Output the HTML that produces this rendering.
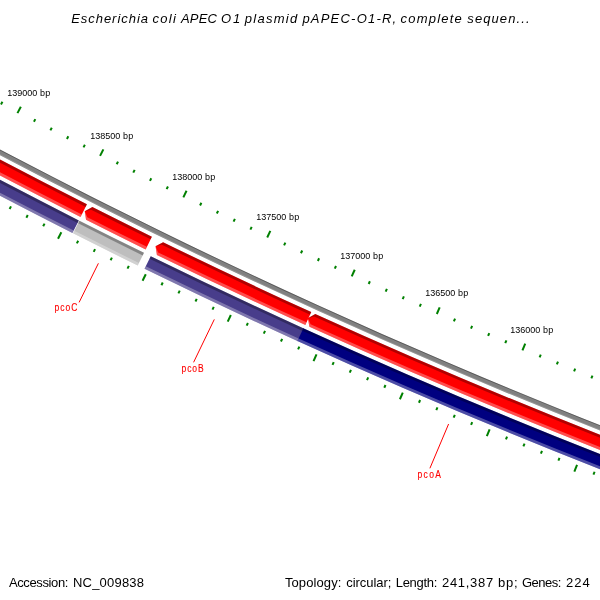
<!DOCTYPE html>
<html><head><meta charset="utf-8"><title>CGView map</title>
<style>html,body{margin:0;padding:0;background:#fff;overflow:hidden}svg{display:block}text{font-family:"Liberation Sans",sans-serif}</style>
</head><body>
<svg width="600" height="600" viewBox="0 0 600 600">
<rect width="600" height="600" fill="#fff"/>
<path d="M-101.46 97.72 A6133.54 6133.54 0 0 0 680.15 458.93" stroke="#808080" stroke-width="5.00" fill="none"/>
<path d="M-100.50 95.97 A6131.54 6131.54 0 0 0 680.86 457.06" stroke="#000" stroke-width="1.00" stroke-opacity="0.3" fill="none"/>
<path d="M-102.42 99.47 A6135.54 6135.54 0 0 0 679.44 460.80" stroke="#fff" stroke-width="1.00" stroke-opacity="0.15" fill="none"/>
<path d="M-107.96 109.53 A6147.02 6147.02 0 0 0 83.73 210.68" stroke="#FF0000" stroke-width="14.15" fill="none"/>
<path d="M-105.23 104.57 A6141.36 6141.36 0 0 0 86.29 205.63" stroke="#000" stroke-width="2.83" stroke-opacity="0.3" fill="none"/>
<path d="M-110.69 114.49 A6152.68 6152.68 0 0 0 81.18 215.73" stroke="#fff" stroke-width="2.83" stroke-opacity="0.3" fill="none"/>
<path d="M-116.63 125.27 A6164.99 6164.99 0 0 0 75.63 226.72" stroke="#483D8B" stroke-width="14.15" fill="none"/>
<path d="M-113.90 120.32 A6159.33 6159.33 0 0 0 78.18 221.66" stroke="#000" stroke-width="2.83" stroke-opacity="0.3" fill="none"/>
<path d="M-119.35 130.23 A6170.65 6170.65 0 0 0 73.08 231.77" stroke="#fff" stroke-width="2.83" stroke-opacity="0.3" fill="none"/>
<path d="M151.89 236.71 A6139.94 6139.94 0 0 1 92.39 207.12 L84.74 211.19 L86.02 219.76 A6154.09 6154.09 0 0 0 145.66 249.41 Z" fill="#FF0000"/>
<path d="M151.89 236.71 A6139.94 6139.94 0 0 1 92.39 207.12 L84.74 211.19 L91.11 209.65 A6142.77 6142.77 0 0 0 150.65 239.25 Z" fill="#000" fill-opacity="0.3"/>
<path d="M146.91 246.87 A6151.26 6151.26 0 0 1 87.29 217.23 L84.74 211.19 L86.02 219.76 A6154.09 6154.09 0 0 0 145.66 249.41 Z" fill="#fff" fill-opacity="0.3"/>
<path d="M76.22 227.01 A6164.99 6164.99 0 0 0 140.86 259.20" stroke="#BEBEBE" stroke-width="14.15" fill="none"/>
<path d="M78.77 221.96 A6159.33 6159.33 0 0 0 143.35 254.11" stroke="#000" stroke-width="2.83" stroke-opacity="0.3" fill="none"/>
<path d="M73.67 232.07 A6170.65 6170.65 0 0 0 138.37 264.28" stroke="#fff" stroke-width="2.83" stroke-opacity="0.3" fill="none"/>
<path d="M311.25 312.06 A6139.94 6139.94 0 0 1 163.12 242.20 L155.52 246.37 L156.91 254.92 A6154.09 6154.09 0 0 0 305.38 324.94 Z" fill="#FF0000"/>
<path d="M311.25 312.06 A6139.94 6139.94 0 0 1 163.12 242.20 L155.52 246.37 L161.87 244.75 A6142.77 6142.77 0 0 0 310.07 314.64 Z" fill="#000" fill-opacity="0.3"/>
<path d="M306.55 322.37 A6151.26 6151.26 0 0 1 158.15 252.38 L155.52 246.37 L156.91 254.92 A6154.09 6154.09 0 0 0 305.38 324.94 Z" fill="#fff" fill-opacity="0.3"/>
<path d="M147.63 262.51 A6164.99 6164.99 0 0 0 300.87 334.86" stroke="#483D8B" stroke-width="14.15" fill="none"/>
<path d="M150.11 257.42 A6159.33 6159.33 0 0 0 303.21 329.71" stroke="#000" stroke-width="2.83" stroke-opacity="0.3" fill="none"/>
<path d="M145.14 267.59 A6170.65 6170.65 0 0 0 298.52 340.01" stroke="#fff" stroke-width="2.83" stroke-opacity="0.3" fill="none"/>
<path d="M677.87 464.92 A6139.94 6139.94 0 0 1 315.28 313.90 L307.80 318.27 L309.42 326.78 A6154.09 6154.09 0 0 0 672.85 478.15 Z" fill="#FF0000"/>
<path d="M677.87 464.92 A6139.94 6139.94 0 0 1 315.28 313.90 L307.80 318.27 L314.11 316.48 A6142.77 6142.77 0 0 0 676.87 467.56 Z" fill="#000" fill-opacity="0.3"/>
<path d="M673.86 475.50 A6151.26 6151.26 0 0 1 310.60 324.20 L307.80 318.27 L309.42 326.78 A6154.09 6154.09 0 0 0 672.85 478.15 Z" fill="#fff" fill-opacity="0.3"/>
<path d="M300.35 334.62 A6164.99 6164.99 0 0 0 668.99 488.33" stroke="#000080" stroke-width="14.15" fill="none"/>
<path d="M302.70 329.47 A6159.33 6159.33 0 0 0 671.00 483.04" stroke="#000" stroke-width="2.83" stroke-opacity="0.3" fill="none"/>
<path d="M298.01 339.77 A6170.65 6170.65 0 0 0 666.98 493.62" stroke="#fff" stroke-width="2.83" stroke-opacity="0.3" fill="none"/>
<line x1="695.33" y1="418.91" x2="697.92" y2="412.09" stroke="#008000" stroke-width="2"/>
<line x1="664.96" y1="498.94" x2="662.37" y2="505.77" stroke="#008000" stroke-width="2"/>
<line x1="677.95" y1="412.29" x2="679.02" y2="409.48" stroke="#008000" stroke-width="2"/>
<line x1="647.34" y1="492.23" x2="646.26" y2="495.03" stroke="#008000" stroke-width="2"/>
<line x1="660.58" y1="405.61" x2="661.67" y2="402.81" stroke="#008000" stroke-width="2"/>
<line x1="629.73" y1="485.45" x2="628.65" y2="488.25" stroke="#008000" stroke-width="2"/>
<line x1="643.24" y1="398.87" x2="644.33" y2="396.08" stroke="#008000" stroke-width="2"/>
<line x1="612.14" y1="478.63" x2="611.05" y2="481.42" stroke="#008000" stroke-width="2"/>
<line x1="625.92" y1="392.09" x2="627.02" y2="389.30" stroke="#008000" stroke-width="2"/>
<line x1="594.58" y1="471.75" x2="593.48" y2="474.54" stroke="#008000" stroke-width="2"/>
<line x1="608.62" y1="385.25" x2="611.31" y2="378.47" stroke="#008000" stroke-width="2"/>
<line x1="577.04" y1="464.81" x2="574.34" y2="471.60" stroke="#008000" stroke-width="2"/>
<line x1="591.34" y1="378.36" x2="592.46" y2="375.58" stroke="#008000" stroke-width="2"/>
<line x1="559.51" y1="457.82" x2="558.40" y2="460.61" stroke="#008000" stroke-width="2"/>
<line x1="574.08" y1="371.42" x2="575.21" y2="368.64" stroke="#008000" stroke-width="2"/>
<line x1="542.01" y1="450.78" x2="540.89" y2="453.56" stroke="#008000" stroke-width="2"/>
<line x1="556.85" y1="364.42" x2="557.98" y2="361.64" stroke="#008000" stroke-width="2"/>
<line x1="524.53" y1="443.69" x2="523.40" y2="446.47" stroke="#008000" stroke-width="2"/>
<line x1="539.63" y1="357.37" x2="540.77" y2="354.60" stroke="#008000" stroke-width="2"/>
<line x1="507.08" y1="436.54" x2="505.93" y2="439.32" stroke="#008000" stroke-width="2"/>
<line x1="522.44" y1="350.27" x2="525.23" y2="343.53" stroke="#008000" stroke-width="2"/>
<line x1="489.64" y1="429.34" x2="486.84" y2="436.08" stroke="#008000" stroke-width="2"/>
<line x1="505.26" y1="343.12" x2="506.42" y2="340.35" stroke="#008000" stroke-width="2"/>
<line x1="472.23" y1="422.09" x2="471.07" y2="424.85" stroke="#008000" stroke-width="2"/>
<line x1="488.11" y1="335.91" x2="489.28" y2="333.15" stroke="#008000" stroke-width="2"/>
<line x1="454.83" y1="414.78" x2="453.67" y2="417.54" stroke="#008000" stroke-width="2"/>
<line x1="470.98" y1="328.65" x2="472.16" y2="325.89" stroke="#008000" stroke-width="2"/>
<line x1="437.47" y1="407.42" x2="436.29" y2="410.18" stroke="#008000" stroke-width="2"/>
<line x1="453.88" y1="321.34" x2="455.06" y2="318.59" stroke="#008000" stroke-width="2"/>
<line x1="420.12" y1="400.00" x2="418.94" y2="402.76" stroke="#008000" stroke-width="2"/>
<line x1="436.80" y1="313.98" x2="439.69" y2="307.28" stroke="#008000" stroke-width="2"/>
<line x1="402.79" y1="392.54" x2="399.90" y2="399.24" stroke="#008000" stroke-width="2"/>
<line x1="419.73" y1="306.57" x2="420.93" y2="303.82" stroke="#008000" stroke-width="2"/>
<line x1="385.49" y1="385.02" x2="384.29" y2="387.77" stroke="#008000" stroke-width="2"/>
<line x1="402.70" y1="299.10" x2="403.90" y2="296.35" stroke="#008000" stroke-width="2"/>
<line x1="368.22" y1="377.45" x2="367.01" y2="380.19" stroke="#008000" stroke-width="2"/>
<line x1="385.68" y1="291.58" x2="386.90" y2="288.84" stroke="#008000" stroke-width="2"/>
<line x1="350.96" y1="369.82" x2="349.74" y2="372.56" stroke="#008000" stroke-width="2"/>
<line x1="368.69" y1="284.01" x2="369.91" y2="281.27" stroke="#008000" stroke-width="2"/>
<line x1="333.73" y1="362.14" x2="332.51" y2="364.88" stroke="#008000" stroke-width="2"/>
<line x1="351.72" y1="276.38" x2="354.72" y2="269.73" stroke="#008000" stroke-width="2"/>
<line x1="316.52" y1="354.41" x2="313.52" y2="361.07" stroke="#008000" stroke-width="2"/>
<line x1="334.77" y1="268.71" x2="336.01" y2="265.98" stroke="#008000" stroke-width="2"/>
<line x1="299.34" y1="346.63" x2="298.10" y2="349.36" stroke="#008000" stroke-width="2"/>
<line x1="317.85" y1="260.98" x2="319.10" y2="258.26" stroke="#008000" stroke-width="2"/>
<line x1="282.18" y1="338.80" x2="280.93" y2="341.52" stroke="#008000" stroke-width="2"/>
<line x1="300.95" y1="253.21" x2="302.21" y2="250.48" stroke="#008000" stroke-width="2"/>
<line x1="265.04" y1="330.91" x2="263.78" y2="333.63" stroke="#008000" stroke-width="2"/>
<line x1="284.08" y1="245.38" x2="285.34" y2="242.66" stroke="#008000" stroke-width="2"/>
<line x1="247.93" y1="322.97" x2="246.66" y2="325.69" stroke="#008000" stroke-width="2"/>
<line x1="267.23" y1="237.49" x2="270.33" y2="230.89" stroke="#008000" stroke-width="2"/>
<line x1="230.84" y1="314.98" x2="227.74" y2="321.59" stroke="#008000" stroke-width="2"/>
<line x1="250.40" y1="229.56" x2="251.68" y2="226.85" stroke="#008000" stroke-width="2"/>
<line x1="213.78" y1="306.93" x2="212.50" y2="309.65" stroke="#008000" stroke-width="2"/>
<line x1="233.60" y1="221.58" x2="234.89" y2="218.87" stroke="#008000" stroke-width="2"/>
<line x1="196.74" y1="298.84" x2="195.45" y2="301.54" stroke="#008000" stroke-width="2"/>
<line x1="216.82" y1="213.54" x2="218.12" y2="210.84" stroke="#008000" stroke-width="2"/>
<line x1="179.73" y1="290.69" x2="178.43" y2="293.39" stroke="#008000" stroke-width="2"/>
<line x1="200.07" y1="205.46" x2="201.37" y2="202.76" stroke="#008000" stroke-width="2"/>
<line x1="162.74" y1="282.49" x2="161.43" y2="285.19" stroke="#008000" stroke-width="2"/>
<line x1="183.34" y1="197.32" x2="186.54" y2="190.76" stroke="#008000" stroke-width="2"/>
<line x1="145.77" y1="274.24" x2="142.57" y2="280.80" stroke="#008000" stroke-width="2"/>
<line x1="166.63" y1="189.13" x2="167.96" y2="186.44" stroke="#008000" stroke-width="2"/>
<line x1="128.84" y1="265.93" x2="127.51" y2="268.62" stroke="#008000" stroke-width="2"/>
<line x1="149.96" y1="180.89" x2="151.29" y2="178.20" stroke="#008000" stroke-width="2"/>
<line x1="111.92" y1="257.58" x2="110.59" y2="260.27" stroke="#008000" stroke-width="2"/>
<line x1="133.30" y1="172.60" x2="134.64" y2="169.92" stroke="#008000" stroke-width="2"/>
<line x1="95.04" y1="249.17" x2="93.70" y2="251.85" stroke="#008000" stroke-width="2"/>
<line x1="116.67" y1="164.26" x2="118.02" y2="161.58" stroke="#008000" stroke-width="2"/>
<line x1="78.17" y1="240.71" x2="76.83" y2="243.39" stroke="#008000" stroke-width="2"/>
<line x1="100.07" y1="155.87" x2="103.37" y2="149.36" stroke="#008000" stroke-width="2"/>
<line x1="61.34" y1="232.20" x2="58.04" y2="238.71" stroke="#008000" stroke-width="2"/>
<line x1="83.50" y1="147.42" x2="84.86" y2="144.75" stroke="#008000" stroke-width="2"/>
<line x1="44.53" y1="223.64" x2="43.16" y2="226.31" stroke="#008000" stroke-width="2"/>
<line x1="66.94" y1="138.93" x2="68.32" y2="136.26" stroke="#008000" stroke-width="2"/>
<line x1="27.75" y1="215.03" x2="26.37" y2="217.69" stroke="#008000" stroke-width="2"/>
<line x1="50.42" y1="130.39" x2="51.80" y2="127.72" stroke="#008000" stroke-width="2"/>
<line x1="10.99" y1="206.36" x2="9.61" y2="209.03" stroke="#008000" stroke-width="2"/>
<line x1="33.92" y1="121.79" x2="35.31" y2="119.13" stroke="#008000" stroke-width="2"/>
<line x1="-5.74" y1="197.65" x2="-7.13" y2="200.31" stroke="#008000" stroke-width="2"/>
<line x1="17.45" y1="113.15" x2="20.85" y2="106.69" stroke="#008000" stroke-width="2"/>
<line x1="-22.44" y1="188.88" x2="-25.85" y2="195.34" stroke="#008000" stroke-width="2"/>
<line x1="1.00" y1="104.45" x2="2.41" y2="101.80" stroke="#008000" stroke-width="2"/>
<line x1="-39.12" y1="180.07" x2="-40.53" y2="182.72" stroke="#008000" stroke-width="2"/>
<line x1="-15.42" y1="95.71" x2="-14.00" y2="93.06" stroke="#008000" stroke-width="2"/>
<line x1="-55.77" y1="171.20" x2="-57.19" y2="173.84" stroke="#008000" stroke-width="2"/>
<line x1="-31.81" y1="86.91" x2="-30.39" y2="84.27" stroke="#008000" stroke-width="2"/>
<line x1="-72.39" y1="162.28" x2="-73.82" y2="164.92" stroke="#008000" stroke-width="2"/>
<line x1="-48.17" y1="78.07" x2="-46.74" y2="75.43" stroke="#008000" stroke-width="2"/>
<line x1="-88.99" y1="153.31" x2="-90.42" y2="155.95" stroke="#008000" stroke-width="2"/>
<line x1="-64.51" y1="69.17" x2="-61.01" y2="62.77" stroke="#008000" stroke-width="2"/>
<line x1="-105.56" y1="144.29" x2="-109.06" y2="150.69" stroke="#008000" stroke-width="2"/>
<line x1="-80.82" y1="60.23" x2="-79.38" y2="57.60" stroke="#008000" stroke-width="2"/>
<line x1="-122.10" y1="135.22" x2="-123.54" y2="137.85" stroke="#008000" stroke-width="2"/>
<line x1="98.40" y1="263.30" x2="79.10" y2="302.40" stroke="#FF0000" stroke-width="1"/>
<line x1="214.30" y1="319.40" x2="193.60" y2="362.30" stroke="#FF0000" stroke-width="1"/>
<line x1="448.60" y1="424.00" x2="429.90" y2="468.30" stroke="#FF0000" stroke-width="1"/>
<text class="title" y="23.00" font-size="13" fill="#000" font-style="italic"><tspan x="71.14" textLength="76.87" lengthAdjust="spacing">Escherichia</tspan> <tspan x="152.50" textLength="23.46" lengthAdjust="spacing">coli</tspan> <tspan x="180.94" textLength="36.06" lengthAdjust="spacing">APEC</tspan> <tspan x="220.93" textLength="19.28" lengthAdjust="spacing">O1</tspan> <tspan x="244.86" textLength="52.38" lengthAdjust="spacing">plasmid</tspan> <tspan x="302.39" textLength="93.79" lengthAdjust="spacing">pAPEC-O1-R,</tspan> <tspan x="400.50" textLength="61.33" lengthAdjust="spacing">complete</tspan> <tspan x="467.33" textLength="62.18" lengthAdjust="spacing">sequen...</tspan></text>
<text class="footer" y="587.20" font-size="13" fill="#000"><tspan x="8.88" textLength="59.55" lengthAdjust="spacing">Accession:</tspan> <tspan x="72.99" textLength="71.02" lengthAdjust="spacing">NC_009838</tspan></text>
<text class="footer" y="587.20" font-size="13" fill="#000"><tspan x="284.88" textLength="56.57" lengthAdjust="spacing">Topology:</tspan> <tspan x="346.22" textLength="45.24" lengthAdjust="spacing">circular;</tspan> <tspan x="395.68" textLength="41.75" lengthAdjust="spacing">Length:</tspan> <tspan x="441.93" textLength="51.30" lengthAdjust="spacing">241,387</tspan> <tspan x="497.99" textLength="19.70" lengthAdjust="spacing">bp;</tspan> <tspan x="521.97" textLength="39.46" lengthAdjust="spacing">Genes:</tspan> <tspan x="565.93" textLength="23.87" lengthAdjust="spacing">224</tspan></text>
<text class="ruler" y="96.00" font-size="9" fill="#000"><tspan x="7.14" textLength="30.13" lengthAdjust="spacing">139000</tspan> <tspan x="39.97" textLength="10.23" lengthAdjust="spacing">bp</tspan></text>
<text class="ruler" y="139.00" font-size="9" fill="#000"><tspan x="90.14" textLength="30.13" lengthAdjust="spacing">138500</tspan> <tspan x="122.97" textLength="10.23" lengthAdjust="spacing">bp</tspan></text>
<text class="ruler" y="180.00" font-size="9" fill="#000"><tspan x="172.14" textLength="30.13" lengthAdjust="spacing">138000</tspan> <tspan x="204.97" textLength="10.23" lengthAdjust="spacing">bp</tspan></text>
<text class="ruler" y="220.00" font-size="9" fill="#000"><tspan x="256.14" textLength="30.13" lengthAdjust="spacing">137500</tspan> <tspan x="288.97" textLength="10.23" lengthAdjust="spacing">bp</tspan></text>
<text class="ruler" y="259.00" font-size="9" fill="#000"><tspan x="340.14" textLength="30.13" lengthAdjust="spacing">137000</tspan> <tspan x="372.97" textLength="10.23" lengthAdjust="spacing">bp</tspan></text>
<text class="ruler" y="296.00" font-size="9" fill="#000"><tspan x="425.14" textLength="30.13" lengthAdjust="spacing">136500</tspan> <tspan x="457.97" textLength="10.23" lengthAdjust="spacing">bp</tspan></text>
<text class="ruler" y="333.00" font-size="9" fill="#000"><tspan x="510.14" textLength="30.13" lengthAdjust="spacing">136000</tspan> <tspan x="542.97" textLength="10.23" lengthAdjust="spacing">bp</tspan></text>
<text class="gene" transform="translate(54.47 310.70) scale(0.850 1)" x="0" y="0" font-size="10" fill="#FF0000" stroke="#FF0000" stroke-width="0.12" textLength="27.04" lengthAdjust="spacing">pcoC</text>
<text class="gene" transform="translate(181.52 371.70) scale(0.850 1)" x="0" y="0" font-size="10" fill="#FF0000" stroke="#FF0000" stroke-width="0.12" textLength="25.92" lengthAdjust="spacing">pcoB</text>
<text class="gene" transform="translate(417.47 477.70) scale(0.850 1)" x="0" y="0" font-size="10" fill="#FF0000" stroke="#FF0000" stroke-width="0.12" textLength="27.67" lengthAdjust="spacing">pcoA</text>
</svg>
</body></html>
